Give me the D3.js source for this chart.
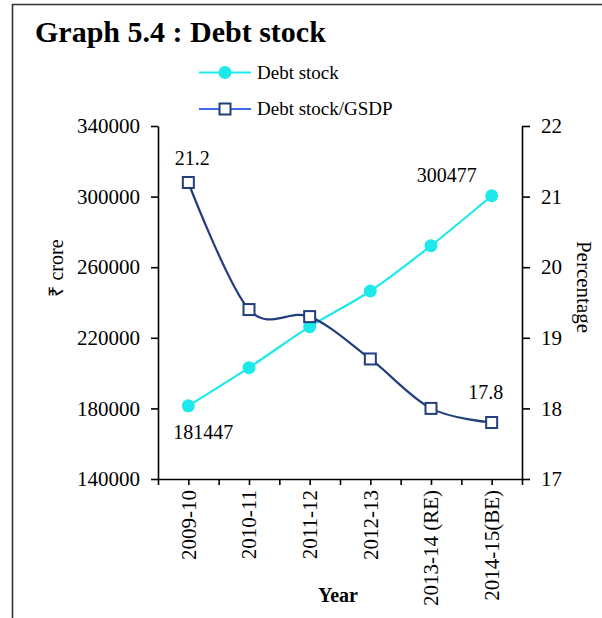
<!DOCTYPE html>
<html>
<head>
<meta charset="utf-8">
<script src="https://cdn.jsdelivr.net/npm/d3@7"></script>
<style>
  body { margin: 0; background: #fff; }
  svg text { font-family: "Liberation Serif", "Times New Roman", serif; fill: #000; }
  .axis path, .axis line { stroke: #000; stroke-width: 1.6px; }
  .axis text { font-size: 21px; }
</style>
</head>
<body>
<div id="chart"></div>
<script>
// data
var years = ["2009-10", "2010-11", "2011-12", "2012-13", "2013-14 (RE)", "2014-15(BE)"];
var debtStock = [181447, 203100, 226300, 246500, 272200, 300477];
var debtGsdp = [21.2, 19.4, 19.3, 18.7, 18.0, 17.8];
var leftTicks = [140000, 180000, 220000, 260000, 300000, 340000];
var rightTicks = [17, 18, 19, 20, 21, 22];

var width = 602, height = 618;
var cyan = "#1ee9ea", navy = "#223e7c";

var svg = d3.select('#chart')
    .append('svg')
    .attr('width', width)
    .attr('height', height);

// frame lines (top and left)
svg.append("path")
    .attr("d", "M12.5," + height + " V4.5 H" + width)
    .attr("fill", "none")
    .attr("stroke", "#333")
    .attr("stroke-width", 1.6);

svg.append("text")
    .attr("x", 35)
    .attr("y", 42)
    .attr("font-size", "30px")
    .attr("font-weight", "bold")
    .text("Graph 5.4 : Debt stock");

var plot = {left: 158, right: 522, top: 126, bottom: 479};

var x = d3.scalePoint()
    .domain(years)
    .range([plot.left, plot.right])
    .padding(0.5);

var xHalf = d3.scaleLinear()
    .domain([0, years.length * 2])
    .range([plot.left, plot.right]);

var yL = d3.scaleLinear()
    .domain([140000, 340000])
    .range([plot.bottom, plot.top]);

var yR = d3.scaleLinear()
    .domain([17, 22])
    .range([plot.bottom, plot.top]);

// axes
svg.append("g")
    .attr("class", "axis")
    .attr("transform", "translate(" + plot.left + ",0)")
    .call(d3.axisLeft(yL).tickValues(leftTicks).tickSize(7).tickSizeOuter(0).tickPadding(11).tickFormat(d3.format("d")));

svg.append("g")
    .attr("class", "axis")
    .attr("transform", "translate(" + plot.right + ",0)")
    .call(d3.axisRight(yR).tickValues(rightTicks).tickSize(8).tickSizeOuter(0).tickPadding(11).tickFormat(d3.format("d")));

// bottom axis: tick marks at half bands
svg.append("g")
    .attr("class", "axis")
    .attr("transform", "translate(0," + plot.bottom + ")")
    .call(d3.axisBottom(xHalf).tickValues(d3.range(years.length * 2 + 1)).tickSize(6).tickSizeOuter(0).tickFormat(""));

var xLab = svg.append("g")
    .attr("class", "axis")
    .attr("transform", "translate(0," + plot.bottom + ")")
    .call(d3.axisBottom(x).tickSize(0).tickPadding(0));
xLab.select(".domain").remove();
xLab.selectAll("text")
    .attr("transform", "rotate(-90)")
    .attr("text-anchor", "end")
    .attr("x", -11)
    .attr("y", 0)
    .attr("dy", "0.33em");

// axis titles
svg.append("text")
    .attr("transform", "translate(63,268) rotate(-90)")
    .attr("text-anchor", "middle")
    .attr("font-size", "20px")
    .text("₹ crore");

svg.append("text")
    .attr("transform", "translate(577,287) rotate(90)")
    .attr("text-anchor", "middle")
    .attr("font-size", "21px")
    .text("Percentage");

svg.append("text")
    .attr("x", 338)
    .attr("y", 602)
    .attr("text-anchor", "middle")
    .attr("font-size", "20px")
    .attr("font-weight", "bold")
    .text("Year");

// lines
var curve = d3.curveCatmullRom.alpha(0);

var debtLine = d3.line()
    .x(function (d, i) { return x(years[i]); })
    .y(function (d) { return yL(d); })
    .curve(curve);

var gsdpLine = d3.line()
    .x(function (d, i) { return x(years[i]); })
    .y(function (d) { return yR(d); })
    .curve(curve);

svg.append("path")
    .datum(debtStock)
    .attr("d", debtLine)
    .attr("fill", "none")
    .attr("stroke", cyan)
    .attr("stroke-width", 2.2);

svg.append("path")
    .datum(debtGsdp)
    .attr("d", gsdpLine)
    .attr("fill", "none")
    .attr("stroke", navy)
    .attr("stroke-width", 2.2);

svg.selectAll(".dot")
    .data(debtStock)
    .enter()
    .append("circle")
    .attr("class", "dot")
    .attr("cx", function (d, i) { return x(years[i]); })
    .attr("cy", function (d) { return yL(d); })
    .attr("r", 6.5)
    .attr("fill", cyan);

var sq = 11;
svg.selectAll(".sq")
    .data(debtGsdp)
    .enter()
    .append("rect")
    .attr("class", "sq")
    .attr("x", function (d, i) { return x(years[i]) - sq / 2; })
    .attr("y", function (d) { return yR(d) - sq / 2; })
    .attr("width", sq)
    .attr("height", sq)
    .attr("fill", "#fff")
    .attr("stroke", navy)
    .attr("stroke-width", 2);

// value labels
var last = years.length - 1;
svg.append("text")
    .attr("x", x(years[0]) + 15)
    .attr("y", yL(debtStock[0]) + 33)
    .attr("text-anchor", "middle")
    .attr("font-size", "20px")
    .text(debtStock[0]);

svg.append("text")
    .attr("x", x(years[last]) - 45)
    .attr("y", yL(debtStock[last]) - 14)
    .attr("text-anchor", "middle")
    .attr("font-size", "20px")
    .text(debtStock[last]);

svg.append("text")
    .attr("x", x(years[0]) + 4)
    .attr("y", yR(debtGsdp[0]) - 17)
    .attr("text-anchor", "middle")
    .attr("font-size", "20px")
    .text(debtGsdp[0].toFixed(1));

svg.append("text")
    .attr("x", x(years[last]) - 6)
    .attr("y", yR(debtGsdp[last]) - 24)
    .attr("text-anchor", "middle")
    .attr("font-size", "20px")
    .text(debtGsdp[last].toFixed(1));

// legend
var legend = svg.append("g");
var legendItems = [
    {name: "Debt stock", line: cyan, y: 72.5},
    {name: "Debt stock/GSDP", line: "#3d6bef", y: 109}
];
legendItems.forEach(function (it, i) {
    legend.append("line")
        .attr("x1", 199).attr("x2", 251)
        .attr("y1", it.y).attr("y2", it.y)
        .attr("stroke", it.line)
        .attr("stroke-width", 2.2);
    if (i === 0) {
        legend.append("circle")
            .attr("cx", 225).attr("cy", it.y).attr("r", 6.5)
            .attr("fill", cyan);
    } else {
        legend.append("rect")
            .attr("x", 225 - sq / 2).attr("y", it.y - sq / 2)
            .attr("width", sq).attr("height", sq)
            .attr("fill", "#fff")
            .attr("stroke", navy)
            .attr("stroke-width", 2);
    }
    legend.append("text")
        .attr("x", 257)
        .attr("y", it.y + 6)
        .attr("font-size", "19px")
        .text(it.name);
});
</script>
</body>
</html>
